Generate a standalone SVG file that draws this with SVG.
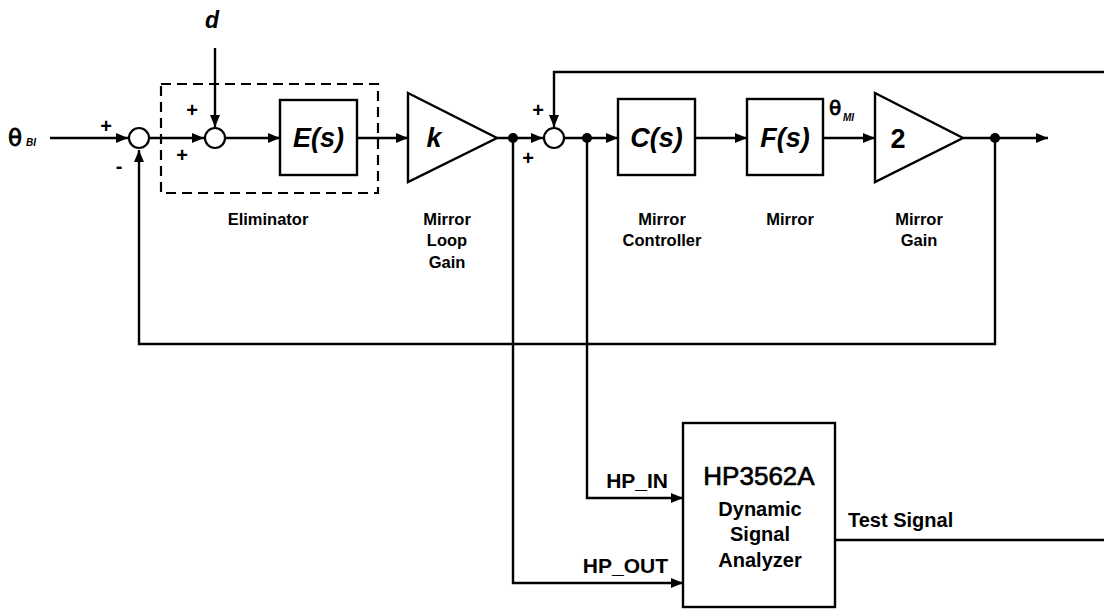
<svg xmlns="http://www.w3.org/2000/svg" width="1104" height="615" viewBox="0 0 1104 615">
<defs>
<marker id="ah" markerUnits="userSpaceOnUse" markerWidth="12" markerHeight="10" refX="12" refY="5" orient="auto">
<path d="M0,0 L12,5 L0,10 z" fill="#000"/>
</marker>
<style>
.ln{fill:none;stroke:#000;stroke-width:2.4}
.blk{fill:#fff;stroke:#000;stroke-width:2.4}
.sum{fill:#fff;stroke:#000;stroke-width:2.2}
.dot{fill:#000}
.t{font-family:"Liberation Sans",Arial,sans-serif;font-weight:bold;fill:#000}
.th{font-family:"DejaVu Sans","Liberation Sans",sans-serif;font-weight:normal;fill:#000;stroke:#000;stroke-width:0.8}
.lab{font-size:16.5px;text-anchor:middle}
.bi{font-style:italic;font-size:27px;text-anchor:middle}
.sg{font-size:20px;text-anchor:middle}
.big{font-weight:normal;font-size:26px;text-anchor:middle;stroke:#000;stroke-width:0.7}
</style>
</defs>
<rect width="1104" height="615" fill="#fff"/>

<g id="connectors">
<line class="ln" x1="50" y1="138" x2="128" y2="138" marker-end="url(#ah)"/>
<line class="ln" x1="150" y1="138" x2="204" y2="138" marker-end="url(#ah)"/>
<line class="ln" x1="215" y1="48" x2="215" y2="127" marker-end="url(#ah)"/>
<line class="ln" x1="226" y1="138" x2="280" y2="138" marker-end="url(#ah)"/>
<line class="ln" x1="357" y1="138" x2="408" y2="138" marker-end="url(#ah)"/>
<line class="ln" x1="497" y1="138" x2="543" y2="138" marker-end="url(#ah)"/>
<line class="ln" x1="565" y1="138" x2="618" y2="138" marker-end="url(#ah)"/>
<line class="ln" x1="695" y1="138" x2="747" y2="138" marker-end="url(#ah)"/>
<line class="ln" x1="823" y1="138" x2="875" y2="138" marker-end="url(#ah)"/>
<line class="ln" x1="963" y1="138" x2="1048" y2="138" marker-end="url(#ah)"/>
<polyline class="ln" points="995,138 995,344 139,344 139,150" marker-end="url(#ah)"/>
<polyline class="ln" points="1104,72 554,72 554,127" marker-end="url(#ah)"/>
<polyline class="ln" points="587,138 587,498 683,498" marker-end="url(#ah)"/>
<polyline class="ln" points="513,138 513,583 683,583" marker-end="url(#ah)"/>
<line class="ln" x1="835" y1="540" x2="1104" y2="540"/>
<circle class="dot" cx="513" cy="138" r="5"/>
<circle class="dot" cx="587" cy="138" r="5"/>
<circle class="dot" cx="995" cy="138" r="5"/>
</g>

<g id="input">
<text class="th" x="8" y="146" font-size="23">θ</text>
<text class="t" x="26" y="146" font-size="10" font-style="italic">BI</text>
<text class="t" x="106" y="133" font-size="20" text-anchor="middle">+</text>
<text class="t" x="119" y="173" font-size="20" text-anchor="middle">-</text>
</g>

<g id="sum1">
<circle class="sum" cx="139" cy="138" r="10"/>
</g>

<g id="disturbance">
<text class="t" x="212" y="28" font-size="23" font-style="italic" text-anchor="middle">d</text>
</g>

<g id="eliminator">
<rect x="161" y="84" width="217" height="109" fill="none" stroke="#000" stroke-width="2.2" stroke-dasharray="10,6"/>
<text class="t lab" x="268" y="225">Eliminator</text>
</g>

<g id="sum2">
<circle class="sum" cx="215" cy="138" r="10"/>
<text class="t" x="192" y="117" font-size="20" text-anchor="middle">+</text>
<text class="t" x="182" y="162" font-size="20" text-anchor="middle">+</text>
</g>

<g id="E">
<rect class="blk" x="280" y="100" width="77" height="75"/>
<text class="t bi" x="318.5" y="147">E(s)</text>
</g>

<g id="k">
<polygon class="blk" points="408,93 497,138 408,182"/>
<text class="t" x="434" y="147" font-size="27" font-style="italic" text-anchor="middle">k</text>
<text class="t lab" x="447" y="225">Mirror</text>
<text class="t lab" x="447" y="246">Loop</text>
<text class="t lab" x="447" y="268">Gain</text>
</g>

<g id="sum3">
<circle class="sum" cx="554" cy="138" r="10"/>
<text class="t" x="538" y="117" font-size="20" text-anchor="middle">+</text>
<text class="t" x="528" y="165" font-size="20" text-anchor="middle">+</text>
</g>

<g id="C">
<rect class="blk" x="618" y="99" width="77" height="76"/>
<text class="t bi" x="656.5" y="147">C(s)</text>
<text class="t lab" x="662" y="225">Mirror</text>
<text class="t lab" x="662" y="246">Controller</text>
</g>

<g id="F">
<rect class="blk" x="747" y="99" width="76" height="76"/>
<text class="t bi" x="785" y="147">F(s)</text>
<text class="t lab" x="790" y="225">Mirror</text>
<text class="th" x="829" y="115" font-size="20">θ</text>
<text class="t" x="843" y="121" font-size="10" font-style="italic">MI</text>
</g>

<g id="gain2">
<polygon class="blk" points="875,93 963,138 875,182"/>
<text class="t" x="898" y="148" font-size="27" text-anchor="middle">2</text>
<text class="t lab" x="919" y="225">Mirror</text>
<text class="t lab" x="919" y="246">Gain</text>
</g>

<g id="analyzer">
<rect class="blk" x="683" y="423" width="152" height="184"/>
<text class="t big" x="759" y="485">HP3562A</text>
<text class="t sg" x="760" y="516">Dynamic</text>
<text class="t sg" x="760" y="541">Signal</text>
<text class="t sg" x="760" y="567">Analyzer</text>
<text class="t" x="668" y="488" font-size="21" text-anchor="end">HP_IN</text>
<text class="t" x="668" y="573" font-size="21" text-anchor="end">HP_OUT</text>
<text class="t" x="848" y="527" font-size="20">Test Signal</text>
</g>
</svg>
